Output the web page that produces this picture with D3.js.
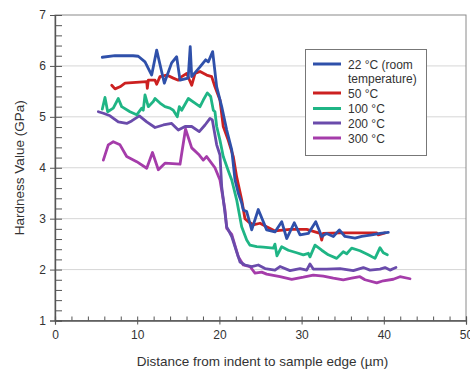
<!DOCTYPE html>
<html>
<head>
<meta charset="utf-8">
<script src="https://cdn.jsdelivr.net/npm/d3@7"></script>
<style>
  body { margin: 0; background: #fff; }
  svg { display: block; }
  text { font-family: "Liberation Sans", Arial, sans-serif; fill: #333; }
</style>
</head>
<body>
<svg id="chart" width="470" height="369"></svg>
<script>
// Hardness profiles across the indent-to-edge distance, one per test temperature
const seriesNames = ["22 °C (room temperature)", "50 °C", "100 °C", "200 °C", "300 °C"];
const seriesColors = ["#2f50aa", "#cc2020", "#1fb585", "#6a4bab", "#a53caa"];

// [distance µm, hardness GPa]
const hard22 = [[5.75,6.17],[7.3,6.2],[9.5,6.2],[10.13,6.19],[10.95,6.08],[11.76,5.82],[12.37,6.31],[13.3,5.66],[14.19,6.06],[14.8,6.18],[15.21,5.72],[16.2,5.76],[16.45,6.38],[16.63,5.79],[17.64,5.98],[18.33,6.12],[18.65,6.08],[19.18,6.28],[19.67,5.59],[20.28,5.2],[20.89,4.74],[21.5,4.35],[21.9,3.76],[22.3,3.5],[22.71,3.31],[22.91,3.17],[23.32,3.14],[23.93,2.78],[24.73,3.18],[25.75,2.78],[26.76,2.74],[27.58,2.94],[28.19,2.61],[29.11,2.92],[29.81,2.68],[30.82,2.71],[31.72,2.94],[32.45,2.65],[33.05,2.71],[33.86,2.65],[34.59,2.78],[35.28,2.65],[36.5,2.62],[37.31,2.65],[38.53,2.68],[39.54,2.71],[40.55,2.73]];
const hard50 = [[6.9,5.62],[7.3,5.55],[7.91,5.59],[8.52,5.66],[11.16,5.69],[11.23,5.56],[11.35,5.72],[12.17,5.72],[12.37,5.64],[12.77,5.79],[13.59,5.82],[14.39,5.76],[15.0,5.72],[15.41,5.79],[16.02,5.85],[16.63,5.62],[17.03,5.85],[17.64,5.89],[18.45,5.82],[19.06,5.79],[19.46,5.59],[20.07,5.33],[20.47,4.81],[21.08,4.54],[21.69,4.22],[22.1,3.82],[22.71,3.37],[23.11,3.0],[23.52,2.94],[24.12,2.88],[24.94,2.91],[25.75,2.84],[26.76,2.76],[28.59,2.79],[30.62,2.79],[32.24,2.71],[32.45,2.58],[32.64,2.71],[34.67,2.72],[37.1,2.72],[39.14,2.72],[39.33,2.68],[40.15,2.72]];
const hard100 = [[5.75,5.15],[6.08,5.38],[6.41,5.1],[7.09,5.17],[7.7,5.36],[8.11,5.2],[9.12,5.1],[9.94,5.04],[10.55,5.17],[10.74,5.13],[10.95,5.43],[11.35,5.2],[11.96,5.3],[12.17,5.36],[12.77,5.27],[13.38,5.2],[13.99,5.17],[14.39,5.13],[14.88,5.0],[15.12,5.2],[15.41,5.13],[16.22,5.36],[17.03,5.27],[17.64,5.2],[18.04,5.33],[18.53,5.47],[18.94,5.4],[19.26,5.13],[19.46,5.1],[19.67,4.81],[20.07,4.54],[20.47,4.22],[21.08,3.94],[21.5,3.76],[22.1,3.37],[22.71,2.84],[23.32,2.58],[23.72,2.48],[24.54,2.45],[25.34,2.44],[26.56,2.42],[26.76,2.5],[27.0,2.27],[27.58,2.45],[28.38,2.38],[29.4,2.33],[30.21,2.29],[30.82,2.32],[31.02,2.25],[31.63,2.48],[32.45,2.38],[33.25,2.29],[34.27,2.22],[35.07,2.35],[35.49,2.31],[36.09,2.42],[37.1,2.37],[38.11,2.29],[38.93,2.22],[39.54,2.43],[39.94,2.33],[40.43,2.29]];
const hard200 = [[5.27,5.1],[5.88,5.07],[6.69,5.02],[7.7,4.9],[8.72,4.87],[9.33,4.92],[10.26,5.02],[11.16,4.9],[12.17,4.79],[13.18,4.84],[14.19,4.87],[15.0,4.74],[15.82,4.81],[16.63,4.81],[17.55,4.71],[18.25,4.84],[18.86,4.97],[19.14,4.94],[19.67,4.45],[20.07,4.25],[20.28,3.63],[20.89,2.84],[21.5,2.65],[22.1,2.35],[22.51,2.15],[23.11,2.09],[23.93,2.06],[24.73,2.09],[25.55,2.02],[26.76,1.99],[27.37,2.06],[28.59,1.98],[29.81,2.02],[30.62,1.99],[31.02,2.11],[31.42,2.01],[33.05,2.01],[34.67,2.02],[36.29,1.98],[37.51,2.04],[38.32,1.99],[39.54,2.01],[40.15,2.04],[40.75,1.99],[41.48,2.04]];
const hard300 = [[5.88,4.15],[6.48,4.45],[7.09,4.51],[7.91,4.45],[8.72,4.22],[9.94,4.12],[11.16,3.99],[11.86,4.3],[12.57,3.96],[13.38,4.09],[15.21,4.07],[15.88,4.76],[16.63,4.39],[17.55,4.25],[18.04,4.15],[18.45,4.22],[19.46,4.0],[20.07,3.76],[20.68,3.17],[20.89,2.81],[21.5,2.69],[22.3,2.25],[22.91,2.09],[23.72,2.06],[24.33,1.93],[25.15,1.95],[25.75,1.91],[27.37,1.86],[28.8,1.81],[30.21,1.85],[31.42,1.89],[32.64,1.87],[33.86,1.83],[35.07,1.8],[36.09,1.83],[37.1,1.86],[37.71,1.8],[39.14,1.74],[39.94,1.78],[41.16,1.81],[41.97,1.86],[43.19,1.82]];
const seriesData = [hard22, hard50, hard100, hard200, hard300];

const xTicks = [0, 10, 20, 30, 40, 50];
const yTicks = [1, 2, 3, 4, 5, 6, 7];
const xTitle = "Distance from indent to sample edge (µm)";
const yTitle = "Hardness Value (GPa)";

const svg = d3.select("#chart");
const x = d3.scaleLinear().domain([0, 50]).range([55, 466]);
const y = d3.scaleLinear().domain([1, 7]).range([320.5, 15]);

// horizontal gridlines
svg.append("g")
  .selectAll("line")
  .data(yTicks.slice(1, -1))
  .join("line")
  .attr("x1", x(0)).attr("x2", x(50))
  .attr("y1", d => y(d)).attr("y2", d => y(d))
  .attr("stroke", "#d6d6d6").attr("stroke-width", 1);

// plot-area frame
svg.append("rect")
  .attr("x", x(0)).attr("y", y(7))
  .attr("width", x(50) - x(0)).attr("height", y(1) - y(7))
  .attr("fill", "none").attr("stroke", "#8a8a8a").attr("stroke-width", 1);

// y axis: outward major ticks with labels, inward minor ticks
const yMinor = d3.range(1, 7.001, 0.2).map(v => +v.toFixed(1));
const gyIn = svg.append("g").attr("transform", `translate(${x(0)},0)`)
  .call(d3.axisLeft(y).tickValues(yMinor).tickSize(-7).tickFormat(""));
const gy = svg.append("g").attr("transform", `translate(${x(0)},0)`)
  .call(d3.axisLeft(y).tickValues(yTicks).tickSize(5).tickPadding(4).tickFormat(d3.format("d")));

// x axis: major ticks crossing, inward minor ticks
const xMinor = d3.range(0, 50.001, 2);
const gxIn = svg.append("g").attr("transform", `translate(0,${y(1)})`)
  .call(d3.axisBottom(x).tickValues(xMinor).tickSize(-4).tickFormat(""));
const gx = svg.append("g").attr("transform", `translate(0,${y(1)})`)
  .call(d3.axisBottom(x).tickValues(xTicks).tickSize(4).tickPadding(6).tickFormat(d3.format("d")));

[gyIn, gy, gxIn, gx].forEach(g => {
  g.select(".domain").attr("stroke", "#555").attr("stroke-width", 1.2);
  g.selectAll(".tick line").attr("stroke", "#555").attr("stroke-width", 1);
  g.selectAll(".tick text").attr("font-size", 12).attr("fill", "#333")
    .attr("font-family", "'Liberation Sans', Arial, sans-serif");
});

// axis titles
svg.append("text")
  .attr("x", (x(0) + x(50)) / 2 + 2).attr("y", 366)
  .attr("text-anchor", "middle").attr("font-size", 13.5)
  .text(xTitle);
svg.append("text")
  .attr("transform", `translate(24,${(y(1) + y(7)) / 2}) rotate(-90)`)
  .attr("text-anchor", "middle").attr("font-size", 13.5)
  .text(yTitle);

// series lines
const line = d3.line().x(d => x(d[0])).y(d => y(d[1]));
svg.append("g")
  .selectAll("path")
  .data(seriesData.map((d, i) => ({ d, i })).reverse())
  .join("path")
  .attr("d", s => line(s.d))
  .attr("fill", "none")
  .attr("stroke", s => seriesColors[s.i])
  .attr("stroke-width", 2.8)
  .attr("stroke-linejoin", "round")
  .attr("stroke-linecap", "round");

// legend
const lg = svg.append("g");
lg.append("rect")
  .attr("x", 305.5).attr("y", 49.5).attr("width", 121).attr("height", 106)
  .attr("fill", "#fff").attr("stroke", "#777").attr("stroke-width", 1);
const rowY = [64, 93, 108.5, 123, 138];
seriesNames.forEach((name, i) => {
  lg.append("line")
    .attr("x1", 313).attr("x2", 341)
    .attr("y1", rowY[i]).attr("y2", rowY[i])
    .attr("stroke", seriesColors[i]).attr("stroke-width", 3);
  const t = lg.append("text").attr("x", 348).attr("y", rowY[i] + 4.5).attr("font-size", 12);
  if (i === 0) {
    t.append("tspan").text("22 °C (room");
    t.append("tspan").attr("x", 348).attr("dy", 14.5).text("temperature)");
  } else {
    t.text(name);
  }
});
</script>
</body>
</html>
